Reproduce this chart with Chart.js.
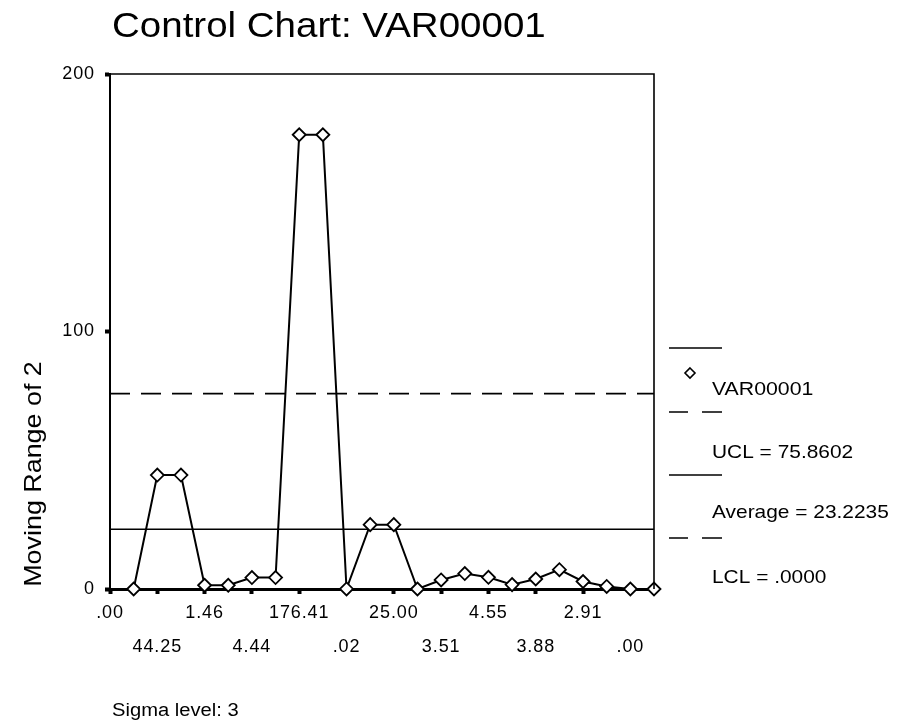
<!DOCTYPE html>
<html>
<head>
<meta charset="utf-8">
<script src="https://cdn.jsdelivr.net/npm/chart.js@4/dist/chart.umd.min.js"></script>
<style>
  html, body { margin: 0; padding: 0; background: #fff; }
  #wrap { width: 903px; height: 727px; }
</style>
</head>
<body>
<div id="wrap"><canvas id="grafico" width="903" height="727"></canvas></div>
<script>
// moving range of 2, first case has none
const casi = ["1","2","3","4","5","6","7","8","9","10","11","12","13","14","15","16","17","18","19","20","21","22","23","24"];
const movingRange = [null, 0, 44.25, 44.25, 1.46, 1.46, 4.44, 4.44, 176.41, 176.41, 0.02, 25.00, 25.00, 0, 3.51, 6.0, 4.55, 1.7, 3.88, 7.5, 2.91, 1.0, 0, 0];
// labels shown under every other case
const etichetteX = [".00", "44.25", "1.46", "4.44", "176.41", ".02", "25.00", "3.51", "4.55", "3.88", "2.91", ".00"];
const ucl = 75.8602;
const media = 23.2235;
const lcl = 0;
const yTicks = [0, 100, 200];

const font = '"Liberation Sans", Arial, sans-serif';

// text a bit wider than the font, like the original
function testoLargo(ctx, txt, x, y, sx) {
  ctx.save();
  ctx.translate(x, y);
  ctx.scale(sx, 1);
  ctx.fillText(txt, 0, 0);
  ctx.restore();
}

const disegnaExtra = {
  id: "extra",
  beforeDraw(chart) {
    chart.ctx.letterSpacing = "0.9px";
  },
  afterDraw(chart) {
    const ctx = chart.ctx;
    const a = chart.chartArea;
    ctx.save();
    ctx.letterSpacing = "0px";
    ctx.strokeStyle = "#000";
    ctx.fillStyle = "#000";

    // frame top and right
    ctx.lineWidth = 1.6;
    ctx.beginPath();
    ctx.moveTo(a.left, a.top);
    ctx.lineTo(a.right, a.top);
    ctx.lineTo(a.right, a.bottom);
    ctx.stroke();

    // title
    ctx.font = "35px " + font;
    ctx.textAlign = "left";
    ctx.textBaseline = "alphabetic";
    testoLargo(ctx, "Control Chart: VAR00001", 112, 37, 1.1);

    // y label
    ctx.save();
    ctx.font = "24px " + font;
    ctx.translate(41, 474);
    ctx.rotate(-Math.PI / 2);
    ctx.textAlign = "center";
    testoLargo(ctx, "Moving Range of 2", 0, 0, 1.12);
    ctx.restore();

    // sigma
    ctx.font = "18px " + font;
    ctx.textAlign = "left";
    testoLargo(ctx, "Sigma level: 3", 112, 716, 1.12);

    // legend
    const lx1 = 669, lx2 = 722;
    ctx.lineWidth = 1.6;
    function solida(y) {
      ctx.beginPath(); ctx.moveTo(lx1, y); ctx.lineTo(lx2, y); ctx.stroke();
    }
    function tratteggiata(y) {
      ctx.beginPath();
      ctx.moveTo(lx1, y); ctx.lineTo(688, y);
      ctx.moveTo(702, y); ctx.lineTo(lx2, y);
      ctx.stroke();
    }
    solida(348);
    // diamond marker
    ctx.beginPath();
    ctx.moveTo(690, 368); ctx.lineTo(695, 373); ctx.lineTo(690, 378); ctx.lineTo(685, 373);
    ctx.closePath();
    ctx.fillStyle = "#fff"; ctx.fill();
    ctx.stroke();
    ctx.fillStyle = "#000";
    tratteggiata(412);
    solida(475);
    tratteggiata(538);

    ctx.font = "19px " + font;
    ctx.textBaseline = "middle";
    testoLargo(ctx, "VAR00001", 712, 390, 1.12);
    testoLargo(ctx, "UCL = " + ucl.toFixed(4), 712, 453, 1.1);
    testoLargo(ctx, "Average = " + media.toFixed(4), 712, 513, 1.1);
    testoLargo(ctx, "LCL = " + lcl.toFixed(4).replace(/^0/, ""), 712, 578, 1.1);
    ctx.restore();
  }
};

const ctx = document.getElementById("grafico").getContext("2d");

new Chart(ctx, {
  type: "line",
  data: {
    labels: casi,
    datasets: [
      {
        label: "UCL",
        data: casi.map(() => ucl),
        borderColor: "#000",
        borderWidth: 1.6,
        borderDash: [20, 11],
        pointRadius: 0,
        order: 3
      },
      {
        label: "Average",
        data: casi.map(() => media),
        borderColor: "#000",
        borderWidth: 1.6,
        pointRadius: 0,
        order: 2
      },
      {
        label: "LCL",
        data: casi.map(() => lcl),
        borderColor: "#000",
        borderWidth: 1.6,
        borderDash: [20, 11],
        pointRadius: 0,
        order: 4
      },
      {
        label: "VAR00001",
        data: movingRange,
        borderColor: "#000",
        borderWidth: 2,
        pointStyle: "rectRot",
        pointRadius: 6.5,
        pointBorderWidth: 1.8,
        pointBackgroundColor: "#fff",
        pointBorderColor: "#000",
        tension: 0,
        clip: false,
        order: 1
      }
    ]
  },
  options: {
    responsive: false,
    animation: false,
    devicePixelRatio: 1,
    layout: { padding: { left: 0, top: 74, right: 249, bottom: 58 } },
    plugins: {
      legend: { display: false },
      title: { display: false },
      tooltip: { enabled: false }
    },
    scales: {
      x: {
        type: "category",
        offset: false,
        afterFit: (scale) => { scale.height = 80; },
        border: { display: true, color: "#000", width: 3 },
        grid: {
          drawOnChartArea: false,
          drawTicks: true,
          tickLength: 5,
          tickWidth: 4,
          tickColor: (c) => (c.index % 2 === 0 ? "#000" : "rgba(0,0,0,0)")
        },
        ticks: {
          autoSkip: false,
          maxRotation: 0,
          minRotation: 0,
          padding: 2,
          color: "#000",
          font: { family: font, size: 18, lineHeight: 34 / 18 },
          callback: function (val, i) {
            if (i % 2 !== 0) return "";
            const k = i / 2;
            const lab = etichetteX[k];
            return k % 2 === 0 ? lab : ["", lab];
          }
        }
      },
      y: {
        min: yTicks[0],
        max: yTicks[yTicks.length - 1],
        afterFit: (scale) => { scale.width = 110; },
        afterBuildTicks: (scale) => { scale.ticks = yTicks.map(v => ({ value: v })); },
        border: { display: true, color: "#000", width: 2 },
        grid: {
          drawOnChartArea: false,
          tickLength: 5,
          tickWidth: 4,
          tickColor: "#000"
        },
        ticks: {
          padding: 10,
          color: "#000",
          font: { family: font, size: 18 }
        }
      }
    }
  },
  plugins: [disegnaExtra]
});
</script>
</body>
</html>
